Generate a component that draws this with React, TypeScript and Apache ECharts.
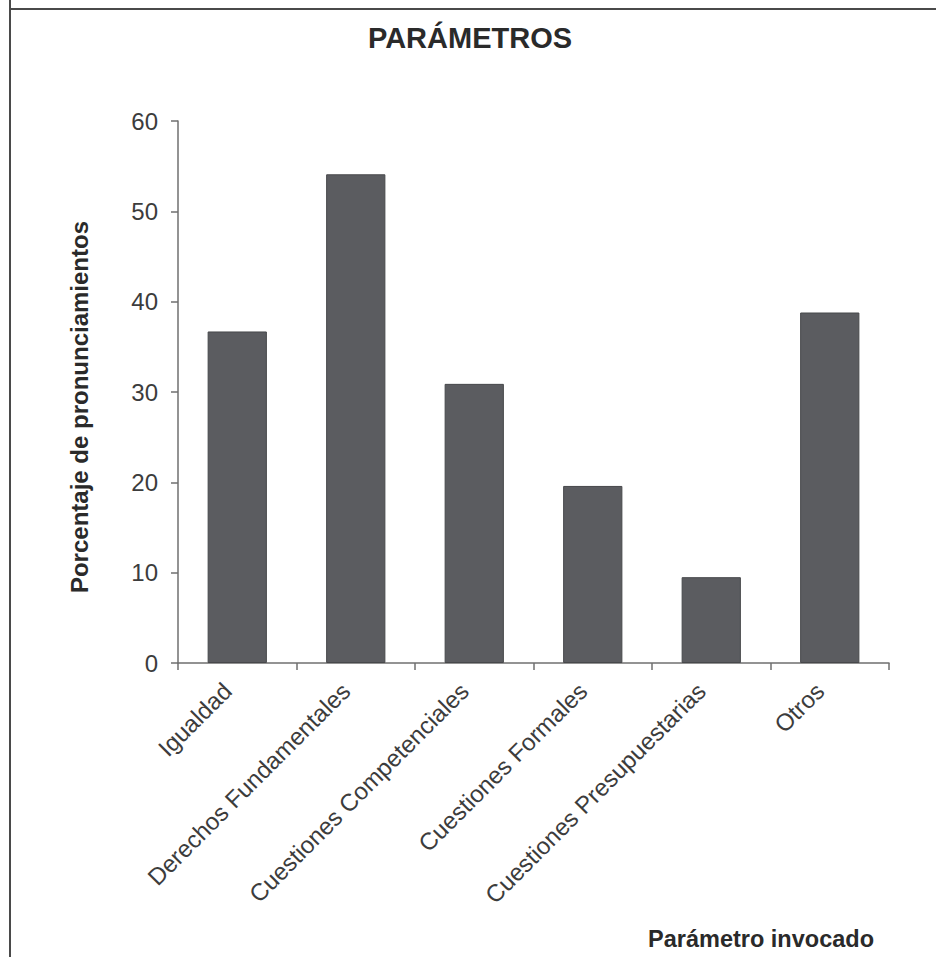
import React, { useEffect, useRef } from "react";
import * as echarts from "echarts";

const categories = [
  "Igualdad",
  "Derechos Fundamentales",
  "Cuestiones Competenciales",
  "Cuestiones Formales",
  "Cuestiones Presupuestarias",
  "Otros",
];
const values = [36.7, 54.1, 30.9, 19.6, 9.5, 38.8];
const yTicks = { min: 0, max: 60, interval: 10 };
const titleText = "PARÁMETROS";
const yName = "Porcentaje de pronunciamientos";
const xName = "Parámetro invocado";

const FONT = "'Liberation Sans', Arial, Helvetica, sans-serif";

export default function App() {
  const ref = useRef<HTMLDivElement>(null);
  useEffect(() => {
    if (!ref.current) return;
    const chart = echarts.init(ref.current, null, { renderer: "svg" });
    chart.setOption({
      animation: false,
      backgroundColor: "#ffffff",
      title: {
        text: titleText,
        left: 465,
        top: 18,
        textAlign: "center",
        textStyle: {
          fontFamily: FONT,
          fontSize: 29,
          fontWeight: "bold",
          color: "#2a2a2a",
        },
      },
      grid: { left: 178, right: 47, top: 121, bottom: 294, containLabel: false },
      xAxis: {
        type: "category",
        data: categories,
        axisLine: { lineStyle: { color: "#6f6f6f", width: 1.5 } },
        axisTick: { show: true, length: 7, lineStyle: { color: "#6f6f6f", width: 1.5 } },
        axisLabel: {
          rotate: 45,
          interval: 0,
          margin: 14,
          padding: [0, 14, 0, 0],
          fontFamily: FONT,
          fontSize: 24,
          color: "#3c3c3c",
        },
      },
      yAxis: {
        type: "value",
        min: yTicks.min,
        max: yTicks.max,
        interval: yTicks.interval,
        name: yName,
        nameLocation: "middle",
        nameGap: 87,
        nameTextStyle: {
          fontFamily: FONT,
          fontSize: 24,
          fontWeight: "bold",
          color: "#2a2a2a",
          padding: [0, 30, 0, 0],
        },
        axisLine: { show: true, lineStyle: { color: "#6f6f6f", width: 1.5 } },
        axisTick: { show: true, length: 7, lineStyle: { color: "#6f6f6f", width: 1.5 } },
        axisLabel: {
          margin: 20,
          fontFamily: FONT,
          fontSize: 24,
          color: "#3c3c3c",
        },
        splitLine: { show: false },
      },
      series: [
        {
          type: "bar",
          data: values,
          barWidth: "50%",
          itemStyle: { color: "#5b5c60", borderColor: "#47484b", borderWidth: 1 },
        },
      ],
      graphic: [
        {
          type: "line",
          shape: { x1: 10, y1: 0, x2: 10, y2: 957 },
          style: { stroke: "#4a4a4a", lineWidth: 2 },
        },
        {
          type: "line",
          shape: { x1: 9, y1: 9, x2: 936, y2: 9 },
          style: { stroke: "#4a4a4a", lineWidth: 2 },
        },
        {
          type: "text",
          right: 62,
          top: 927,
          style: {
            text: xName,
            fontFamily: FONT,
            fontSize: 23.5,
            fontWeight: "bold",
            fill: "#2a2a2a",
          },
        },
      ],
    });
    return () => chart.dispose();
  }, []);
  return (
    <div
      ref={ref}
      style={{ position: "fixed", left: 0, top: 0, width: 936, height: 957 }}
    />
  );
}
